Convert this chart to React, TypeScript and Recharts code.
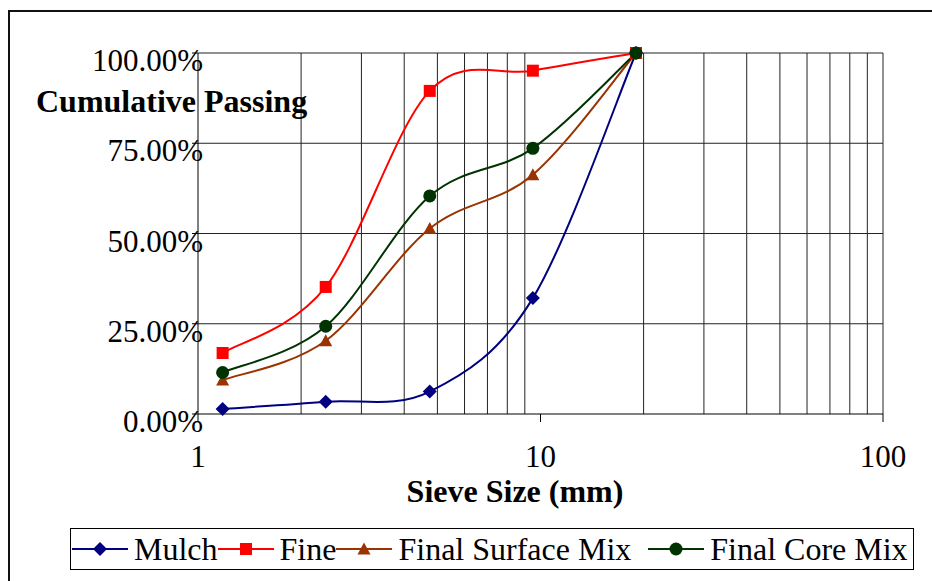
import { Legend, Line, LineChart, ReferenceLine, XAxis, YAxis } from "recharts";

// Sieve analysis: cumulative % passing against sieve size (log scale).
const sieveSizes = [1.18, 2.36, 4.75, 9.5, 19];
const mulch = [1.4, 3.4, 6.2, 32.1, 100];
const fine = [16.9, 35.2, 89.5, 95.1, 100];
const surfaceMix = [9.4, 20.3, 51.4, 66.3, 100];
const coreMix = [11.5, 24.3, 60.4, 73.6, 100];

const xTicks = [1, 10, 100];
const yTicks = [0, 25, 50, 75, 100];
const xGrid = [2, 3, 4, 5, 6, 7, 8, 9, 20, 30, 40, 50, 60, 70, 80, 90, 100];
const yGrid = [25, 50, 75, 100];

const FONT = "'Liberation Serif', 'Times New Roman', serif";
const FS = 31; // tick labels
const FS_TITLE = 32; // axis titles and legend

type Marker = "diamond" | "square" | "triangle" | "circle";
const series: { key: string; name: string; color: string; marker: Marker; gap: number }[] = [
  { key: "mulch", name: "Mulch", color: "#000080", marker: "diamond", gap: 0 },
  { key: "fine", name: "Fine", color: "#FF0000", marker: "square", gap: 0 },
  { key: "surface", name: "Final Surface Mix", color: "#993300", marker: "triangle", gap: 0 },
  { key: "core", name: "Final Core Mix", color: "#003300", marker: "circle", gap: 17 },
];

const data = sieveSizes.map((size, i) => ({
  size,
  mulch: mulch[i],
  fine: fine[i],
  surface: surfaceMix[i],
  core: coreMix[i],
}));

// Excel-style smoothed line: uniform Catmull-Rom through the points.
function smoothCurve(context: any) {
  let pts: [number, number][] = [];
  return {
    areaStart() {},
    areaEnd() {},
    lineStart() {
      pts = [];
    },
    point(x: number, y: number) {
      pts.push([+x, +y]);
    },
    lineEnd() {
      if (!pts.length) return;
      context.moveTo(pts[0][0], pts[0][1]);
      for (let i = 0; i < pts.length - 1; i++) {
        const p0 = pts[Math.max(i - 1, 0)];
        const p1 = pts[i];
        const p2 = pts[i + 1];
        const p3 = pts[Math.min(i + 2, pts.length - 1)];
        context.bezierCurveTo(
          p1[0] + (p2[0] - p0[0]) / 6,
          p1[1] + (p2[1] - p0[1]) / 6,
          p2[0] - (p3[0] - p1[0]) / 6,
          p2[1] - (p3[1] - p1[1]) / 6,
          p2[0],
          p2[1]
        );
      }
    },
  };
}

function MarkerShape({ cx, cy, marker, color }: { cx: number; cy: number; marker: Marker; color: string }) {
  if (marker === "diamond")
    return <path d={`M${cx},${cy - 7}L${cx + 7},${cy}L${cx},${cy + 7}L${cx - 7},${cy}Z`} fill={color} />;
  if (marker === "square") return <rect x={cx - 6} y={cy - 6} width={12} height={12} fill={color} />;
  if (marker === "triangle")
    return <path d={`M${cx},${cy - 6.5}L${cx + 6.5},${cy + 5.5}L${cx - 6.5},${cy + 5.5}Z`} fill={color} />;
  return <circle cx={cx} cy={cy} r={6.5} fill={color} />;
}

const YTick = ({ y, payload }: any) => (
  <text x={203} y={y + 18} textAnchor="end" fontSize={FS} fontFamily={FONT} fill="#000">
    {`${payload.value.toFixed(2)}%`}
  </text>
);

const XTick = ({ x, payload }: any) => (
  <text x={x} y={467} textAnchor="middle" fontSize={FS} fontFamily={FONT} fill="#000">
    {payload.value}
  </text>
);

const LegendBox = () => (
  <div
    style={{
      boxSizing: "border-box",
      width: 844,
      height: 42,
      border: "1px solid #000",
      display: "flex",
      alignItems: "center",
      paddingLeft: 1,
      fontFamily: FONT,
      fontSize: FS_TITLE,
      whiteSpace: "nowrap",
      background: "#fff",
    }}
  >
    {series.map((s) => (
      <div key={s.key} style={{ display: "flex", alignItems: "center", marginLeft: s.gap }}>
        <svg width={56} height={20} style={{ marginRight: 6 }}>
          <line x1={0} y1={10} x2={56} y2={10} stroke={s.color} strokeWidth={2} />
          <MarkerShape cx={28} cy={10} marker={s.marker} color={s.color} />
        </svg>
        <span style={{ lineHeight: "40px" }}>{s.name}</span>
      </div>
    ))}
  </div>
);

export default function App() {
  return (
    <div style={{ position: "absolute", left: 0, top: 0, width: 932, height: 581, overflow: "hidden", background: "#fff" }}>
      <div
        style={{
          position: "absolute",
          left: 8,
          top: 10,
          width: 1000,
          height: 1000,
          border: "2px solid #111",
        }}
      />
      <div style={{ position: "absolute", left: 0, top: 0 }}>
        <LineChart width={932} height={581} data={data} margin={{ top: 53, right: 49, bottom: 0, left: 0 }}>
          {xGrid.map((v) => (
            <ReferenceLine key={`x${v}`} x={v} stroke="#222" strokeWidth={1} />
          ))}
          {yGrid.map((v) => (
            <ReferenceLine key={`y${v}`} y={v} stroke="#222" strokeWidth={1} />
          ))}
          <XAxis
            dataKey="size"
            type="number"
            scale="log"
            domain={[1, 100]}
            ticks={xTicks}
            allowDataOverflow
            height={167}
            tickSize={8}
            stroke="#000"
            tick={<XTick />}
            label={{
              value: "Sieve Size (mm)",
              content: () => (
                <text x={515} y={502} textAnchor="middle" fontSize={FS_TITLE} fontWeight="bold" fontFamily={FONT} fill="#000">
                  Sieve Size (mm)
                </text>
              ),
            }}
          />
          <YAxis
            type="number"
            domain={[0, 100]}
            ticks={yTicks}
            width={198}
            tickSize={6}
            stroke="#000"
            tick={<YTick />}
            label={{
              value: "Cumulative Passing",
              content: () => (
                <text x={36} y={112} fontSize={FS_TITLE} fontWeight="bold" fontFamily={FONT} fill="#000">
                  Cumulative Passing
                </text>
              ),
            }}
          />
          {series.map((s) => (
            <Line
              key={s.key}
              dataKey={s.key}
              name={s.name}
              type={smoothCurve as any}
              stroke={s.color}
              strokeWidth={2}
              isAnimationActive={false}
              dot={(p: any) => <MarkerShape key={`${s.key}-${p.index}`} cx={p.cx} cy={p.cy} marker={s.marker} color={s.color} />}
              activeDot={false}
            />
          ))}
          <Legend
            layout="horizontal"
            verticalAlign="middle"
            align="center"
            wrapperStyle={{ left: 70, top: 528, width: 844, height: 42 }}
            content={<LegendBox />}
          />
        </LineChart>
      </div>
    </div>
  );
}
